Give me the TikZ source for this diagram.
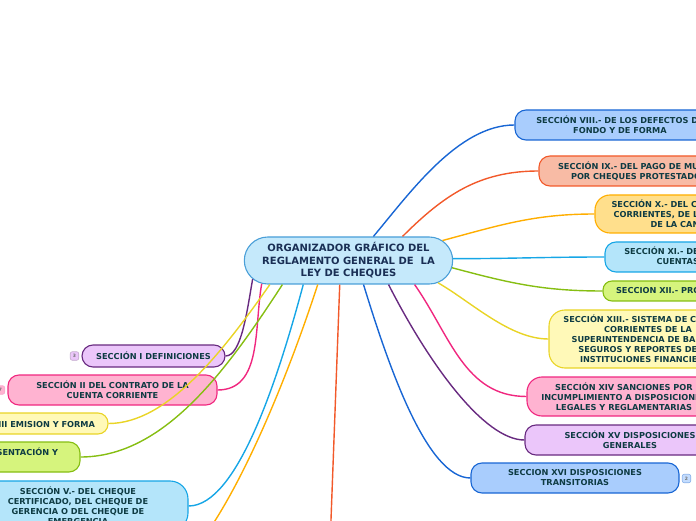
\documentclass[tikz,border=0pt]{standalone}
\usepackage{fontspec}
\setmainfont{DejaVu Sans}
\usetikzlibrary{shapes.misc}
\definecolor{ink}{HTML}{0E3B43}
\definecolor{titleink}{HTML}{1A2F55}
\definecolor{rootfill}{HTML}{C5E9FB}
\definecolor{rootline}{HTML}{4A9FD8}
\definecolor{purplefill}{HTML}{EBC6FA}
\definecolor{purpleline}{HTML}{682A80}
\definecolor{pinkfill}{HTML}{FFB3D1}
\definecolor{pinkline}{HTML}{F0277F}
\definecolor{yellowfill}{HTML}{FFF9B8}
\definecolor{yellowline}{HTML}{E9D426}
\definecolor{limefill}{HTML}{D6F47D}
\definecolor{limeline}{HTML}{86BE12}
\definecolor{skyfill}{HTML}{B4E5FA}
\definecolor{skyline}{HTML}{16A6E6}
\definecolor{bluefill}{HTML}{A9CDFD}
\definecolor{blueline}{HTML}{1866D4}
\definecolor{salmonfill}{HTML}{F8BBA5}
\definecolor{salmonline}{HTML}{F2592A}
\definecolor{orangefill}{HTML}{FFDF8C}
\definecolor{orangeline}{HTML}{FFAE00}

\begin{document}
\begin{tikzpicture}[x=1pt,y=1pt,
  sec/.style={draw,line width=1.1pt,rounded corners=11pt,minimum height=30pt,align=center,
    inner sep=2pt,text=ink,font=\fontsize{8.2}{10}\selectfont\bfseries},
  badge/.style={draw,line width=0.6pt,rounded corners=2pt,minimum size=8.5pt,inner sep=0pt,
    text=black!55,font=\fontsize{4.5}{5}\selectfont\bfseries},
  link/.style={line width=1.4pt}]
\useasboundingbox (0,0) rectangle (696,520);
\clip (0,0) rectangle (696,520);
% central topic
\node[rounded rectangle,draw=rootline,fill=rootfill,line width=1.1pt,minimum width=215pt,
  minimum height=47pt,align=center,text=titleink,font=\fontsize{10}{12.5}\selectfont\bfseries]
  (root) at (348.5,259.5) {ORGANIZADOR GRÁFICO DEL\\REGLAMENTO GENERAL DE\ \ LA\\LEY DE CHEQUES};
% right side
\node[sec,fill=bluefill,draw=blueline,minimum width=210pt] (s8) at (620,395)
  {SECCIÓN VIII.- DE LOS DEFECTOS DE\\FONDO Y DE FORMA};
\node[sec,fill=salmonfill,draw=salmonline,minimum width=200pt] (s9) at (639,349)
  {SECCIÓN IX.- DEL PAGO DE MULTAS\\POR CHEQUES PROTESTADOS};
\node[sec,fill=orangefill,draw=orangeline,minimum width=206pt,minimum height=38pt,rounded corners=15pt]
  (s10) at (698,306) {SECCIÓN X.- DEL CIERRE DE CUENTAS\\CORRIENTES, DE LA INHABILITACIÓN\\DE LA CANCELACIÓN};
\node[sec,fill=skyfill,draw=skyline,minimum width=202pt] (s11) at (706,263)
  {SECCIÓN XI.- DE LOS TITULARES DE\\CUENTAS CONJUNTAS};
\node[sec,fill=limefill,draw=limeline,minimum width=164pt,minimum height=20pt,rounded corners=9pt]
  (s12) at (685,229) {SECCION XII.- PROHIBICIONES};
\node[sec,fill=yellowfill,draw=yellowline,minimum width=198pt,minimum height=58pt,rounded corners=16pt]
  (s13) at (648,181) {SECCIÓN XIII.- SISTEMA DE CUENTAS\\CORRIENTES DE LA\\SUPERINTENDENCIA DE BANCOS,\\SEGUROS Y REPORTES DE LAS\\INSTITUCIONES FINANCIERAS};
\node[sec,fill=pinkfill,draw=pinkline,minimum width=194pt,minimum height=39pt,rounded corners=15pt]
  (s14) at (624,123.5) {SECCIÓN XIV SANCIONES POR\\INCUMPLIMIENTO A DISPOSICIONES\\LEGALES Y REGLAMENTARIAS};
\node[sec,fill=purplefill,draw=purpleline,minimum width=210pt] (s15) at (630,80)
  {SECCIÓN XV DISPOSICIONES\\GENERALES};
\node[sec,fill=bluefill,draw=blueline,minimum width=208pt] (s16) at (575,42)
  {SECCION XVI DISPOSICIONES\\TRANSITORIAS};
\node[badge,fill=bluefill!70,draw=blueline!50] (b16) at (686.5,41.5) {2};
% left side
\node[sec,fill=purplefill,draw=purpleline,minimum width=143pt,minimum height=22pt] (s1) at (153.5,164)
  {SECCIÓN I DEFINICIONES};
\node[badge,fill=purplefill,draw=purpleline!40] (b1) at (74.5,164) {3};
\node[sec,fill=pinkfill,draw=pinkline,minimum width=209pt] (s2) at (112.5,130)
  {SECCIÓN II DEL CONTRATO DE LA\\CUENTA CORRIENTE};
\node[badge,fill=pinkfill,draw=pinkline!40] (b2) at (0.5,130) {7};
\node[sec,fill=yellowfill,draw=yellowline,minimum width=166pt,minimum height=21pt,rounded corners=10pt]
  (s3) at (25,96.5) {SECCIÓN III EMISION Y FORMA};
\node[sec,fill=limefill,draw=limeline,minimum width=214pt] (s4) at (-27,63)
  {SECCIÓN IV.- DE LA PRESENTACIÓN Y\\PAGO};
\node[sec,fill=skyfill,draw=skyline,minimum width=220pt,minimum height=50pt,rounded corners=18pt]
  (s5) at (78,14) {SECCIÓN V.- DEL CHEQUE\\CERTIFICADO, DEL CHEQUE DE\\GERENCIA O DEL CHEQUE DE\\EMERGENCIA};
\coordinate (s6) at (150,-60);
\coordinate (s7) at (329.5,-40);
% branches
\foreach \t/\a/\o/\lo/\li/\col in {s8/44/50/0.8/0.8/blueline,s9/24/45/1/1/salmonline,
    s10/12/15/1/1/orangeline,s11/1/0/1/1/skyline,s12/-4/-15/1/1/limeline,
    s13/-14/-30/0.8/0.8/yellowline,s14/-20/-55/1/1/pinkline,s15/-31/-63/1.1/0.5/purpleline,
    s16/-58/-73/1/0.5/blueline}{
  \draw[link,\col] (root.\a) to[out=\o,in=180,out looseness=\lo,in looseness=\li] (\t.west);
}
\foreach \t/\a/\o/\lo/\li/\col in {s1/-169/-100/1/0.5/purpleline,s2/-165/-100/1/1/pinkline,
    s3/-163/-125/1/0.7/yellowline,s4/-160/-123/1/0.8/limeline,s5/-152/-105/1/0.5/skyline}{
  \draw[link,\col] (root.\a) to[out=\o,in=0,out looseness=\lo,in looseness=\li] (\t.east);
}
\draw[link,orangeline] (root.-142) to[out=-108,in=0,in looseness=0.4] (s6);
\draw[link,salmonline] (root.-110) -- (s7);
\end{tikzpicture}
\end{document}
